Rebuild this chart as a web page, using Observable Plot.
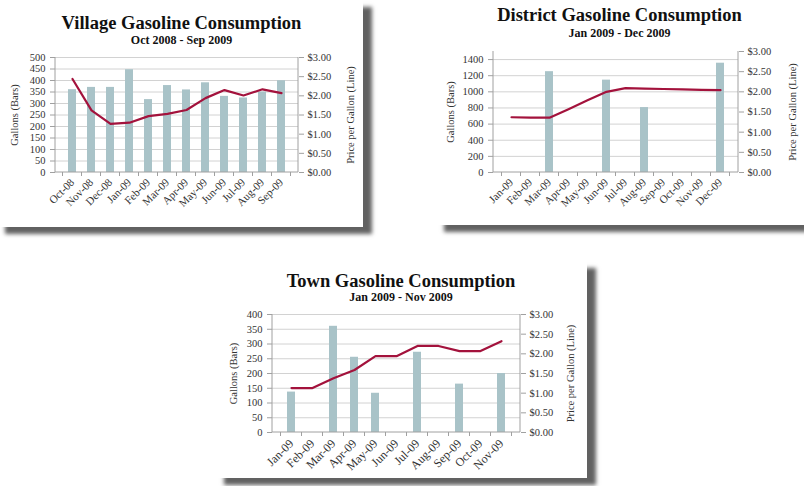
<!DOCTYPE html>
<html><head><meta charset="utf-8">
<script src="https://cdn.jsdelivr.net/npm/d3@7"></script>
<script src="https://cdn.jsdelivr.net/npm/@observablehq/plot@0.6"></script>
<style>
body{margin:0;background:#fff;width:804px;height:486px;position:relative;overflow:hidden;font-family:"Liberation Serif","Times New Roman",serif;}
.card{position:absolute;background:#fff;box-shadow:9px 7px 4px rgba(0,0,0,0.62);}
.title{position:absolute;text-align:center;font-weight:bold;color:#111;font-size:18.5px;line-height:20px;white-space:nowrap;}
.sub{position:absolute;text-align:center;font-weight:bold;color:#111;font-size:12px;line-height:14px;white-space:nowrap;}
.plot{position:absolute;}
</style>
</head>
<body>
<div class="card" style="left:-4px;top:0px;width:367px;height:227px"></div>
<div class="card" style="left:435px;top:-2px;width:380px;height:227px"></div>
<div class="card" style="left:215px;top:261px;width:372px;height:217px"></div>

<div class="title" style="left:0;width:363px;top:13px">Village Gasoline Consumption</div>
<div class="sub" style="left:0;width:363px;top:33px">Oct 2008 - Sep 2009</div>
<div class="title" style="left:435px;width:369px;top:5px">District Gasoline Consumption</div>
<div class="sub" style="left:435px;width:369px;top:26px">Jan 2009 - Dec 2009</div>
<div class="title" style="left:215px;width:372px;top:271px">Town Gasoline Consumption</div>
<div class="sub" style="left:215px;width:372px;top:290px">Jan 2009 - Nov 2009</div>

<div id="village" class="plot" style="left:0;top:48px"></div>
<div id="district" class="plot" style="left:435px;top:42px"></div>
<div id="town" class="plot" style="left:215px;top:305px"></div>

<script>
// ---- data ----
const villageMonths = ["Oct-08","Nov-08","Dec-08","Jan-09","Feb-09","Mar-09","Apr-09","May-09","Jun-09","Jul-09","Aug-09","Sep-09"];
const villageGallons = [360,370,370,447,317,378,359,390,331,324,350,399];
const villagePrice = [2.44,1.62,1.27,1.30,1.47,1.53,1.63,1.94,2.15,2.01,2.17,2.07];
const villageTicks = [0,50,100,150,200,250,300,350,400,450,500];
const villageMax = 500;

const districtMonths = ["Jan-09","Feb-09","Mar-09","Apr-09","May-09","Jun-09","Jul-09","Aug-09","Sep-09","Oct-09","Nov-09","Dec-09"];
const districtGallons = [null,null,1250,null,null,1145,null,805,null,null,null,1355];
const districtPrice = [1.37,1.36,1.36,1.57,1.79,2.00,2.09,2.08,2.07,2.06,2.05,2.04];
const districtTicks = [0,200,400,600,800,1000,1200,1400];
const districtMax = 1500;

const townMonths = ["Jan-09","Feb-09","Mar-09","Apr-09","May-09","Jun-09","Jul-09","Aug-09","Sep-09","Oct-09","Nov-09"];
const townGallons = [137,null,360,255,133,null,272,null,164,null,200];
const townPrice = [1.13,1.13,1.38,1.59,1.94,1.94,2.20,2.20,2.07,2.07,2.32];
const townTicks = [0,50,100,150,200,250,300,350,400];
const townMax = 400;

const priceTicks = [0,0.5,1,1.5,2,2.5,3];
const priceMax = 3;

const BAR = "#a9c3c8", LINE = "#a3123c", GRID = "#d2d2d2", AXIS = "#a0a0a0", TEXT = "#333";

function frameLines(index, scales, values, dims) {
  const g = d3.create("svg:g").attr("stroke", AXIS).attr("fill", "none");
  const y1 = dims.marginTop, y2 = dims.height - dims.marginBottom;
  const xl = dims.marginLeft, xr = dims.width - dims.marginRight;
  g.append("line").attr("x1", xl).attr("x2", xl).attr("y1", y1).attr("y2", y2);
  g.append("line").attr("x1", xr).attr("x2", xr).attr("y1", y1).attr("y2", y2);
  g.append("line").attr("x1", xl).attr("x2", xr).attr("y1", y2).attr("y2", y2);
  const x = scales.x;
  if (x && typeof x.step === "function") {
    const st = x.step(), bw = x.bandwidth();
    const doms = x.domain();
    const edges = doms.map(d => x(d) + bw / 2 - st / 2);
    edges.push(x(doms[doms.length - 1]) + bw / 2 + st / 2);
    for (const e of edges) g.append("line").attr("x1", e).attr("x2", e).attr("y1", y2).attr("y2", y2 + 4);
  }
  return g.node();
}

function makeChart(sel, months, gallons, price, ticks, ymax, dims) {
  const k = ymax / priceMax;
  const data = months.map((m, i) => ({month: m, gallons: gallons[i], price: price[i]}));
  const chart = Plot.plot({
    width: dims.width, height: dims.height,
    marginTop: dims.mt, marginBottom: dims.mb, marginLeft: dims.ml, marginRight: dims.mr,
    style: {fontFamily: "'Liberation Serif','Times New Roman',serif", fontSize: "10.5px", color: TEXT, background: "transparent", overflow: "visible"},
    x: {domain: months, padding: 0.6, align: 0.5},
    y: {domain: [0, ymax]},
    marks: [
      Plot.gridY(ticks.filter(t => t > 0), {stroke: GRID, strokeOpacity: 1}),
      Plot.barY(data, {x: "month", y: "gallons", fill: BAR}),
      frameLines,
      Plot.lineY(data, {x: "month", y: d => d.price * k, stroke: LINE, strokeWidth: 2.2}),
      Plot.axisY(ticks, {anchor: "left", tickSize: 5, tickPadding: 5, stroke: AXIS, fill: TEXT, fontSize: 10.5,
        tickFormat: d => String(d), label: "Gallons (Bars)", labelAnchor: "center", labelOffset: dims.lo, labelArrow: false}),
      Plot.axisY(priceTicks.map(p => p * k), {anchor: "right", tickSize: 5, tickPadding: 4, stroke: AXIS, fill: TEXT, fontSize: 10.5,
        tickFormat: v => "$" + (v / k).toFixed(2), label: "Price per Gallon (Line)", labelAnchor: "center", labelOffset: dims.ro, labelArrow: false}),
      Plot.axisX({tickRotate: -45, tickSize: 0, tickPadding: dims.xp, fontSize: dims.xf, fill: TEXT, label: null})
    ]
  });
  document.querySelector(sel).append(chart);
}

makeChart("#village", villageMonths, villageGallons, villagePrice, villageTicks, villageMax,
  {width: 363, height: 179, mt: 9, mb: 55, ml: 55, mr: 65, lo: 45, ro: 55, xp: 8, xf: 11});
makeChart("#district", districtMonths, districtGallons, districtPrice, districtTicks, districtMax,
  {width: 369, height: 183, mt: 9, mb: 53, ml: 58, mr: 66, lo: 47, ro: 57, xp: 8, xf: 11});
makeChart("#town", townMonths, townGallons, townPrice, townTicks, townMax,
  {width: 372, height: 173, mt: 9, mb: 46, ml: 57, mr: 67, lo: 43, ro: 53, xp: 9, xf: 12});
</script>
</body></html>
